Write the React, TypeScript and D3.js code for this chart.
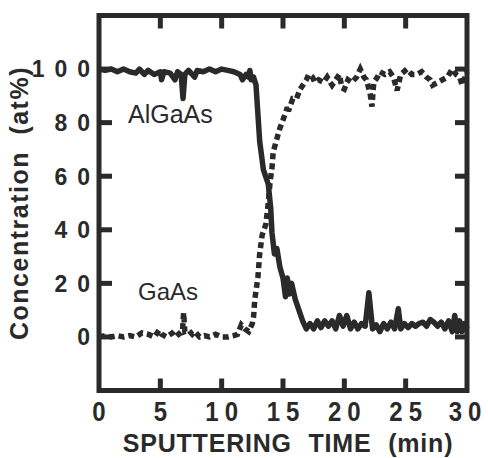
import React from 'react';
import * as d3 from 'd3';

const W = 488;
const H = 458;

const xTickValues = [0, 5, 10, 15, 20, 25, 30];
const xTickLabels = ['0', '5', '10', '15', '20', '25', '30'];
const yTickValues = [0, 20, 40, 60, 80, 100];
const yTickLabels = ['0', '20', '40', '60', '80', '100'];
const innerXTicks = [5, 10, 15, 20, 25];
const innerYTicks = [0, 20, 40, 60, 80, 100];

const xTitle = 'SPUTTERING TIME (min)';
const yTitle = 'Concentration (at%)';
const seriesNames = ['AlGaAs', 'GaAs'];

// AlGaAs (solid line)
const alTime = [0, 0.5, 1, 1.5, 2, 2.5, 3, 3.3, 3.7, 4, 4.5, 5, 5.1, 5.3, 5.8, 6.2, 6.4, 6.7, 6.85, 7.0, 7.3, 7.8, 8, 8.5, 9, 9.5, 10, 10.5, 11, 11.5, 11.7, 12, 12.2, 12.3, 12.4, 12.6, 12.8, 13.1, 13.4, 13.8, 14.0, 14.1, 14.3, 14.5, 14.75, 15.0, 15.2, 15.35, 15.5, 15.7, 16.0, 16.3, 16.6, 16.9, 17.2, 17.5, 17.8, 18.1, 18.4, 18.7, 19.0, 19.3, 19.6, 19.9, 20.2, 20.5, 20.8, 21.1, 21.4, 21.7, 22.0, 22.3, 22.6, 22.9, 23.2, 23.5, 23.8, 24.1, 24.4, 24.6, 24.9, 25.2, 25.5, 25.8, 26.1, 26.4, 26.7, 27.0, 27.3, 27.6, 27.9, 28.2, 28.5, 28.8, 29.0, 29.2, 29.4, 29.6, 29.8, 30];
const alConc = [100, 99.5, 100, 99, 100, 99, 98.5, 100, 98, 99.5, 98, 99, 96, 99, 98.5, 96, 99, 98, 89, 98, 99.5, 97, 99.5, 99, 100, 99, 100, 99.5, 99, 98, 96, 98, 97, 99.5, 96, 97, 94, 73, 62.5, 57, 48, 39, 31, 33, 26, 22, 15, 22, 16, 20, 14, 10, 6, 3, 5, 3, 6, 3.5, 6, 4, 6, 3, 8, 4, 8, 3, 5.5, 3, 5, 4, 16.5, 3, 4.5, 2, 5, 3, 5.5, 3, 10.5, 3, 5, 3.5, 5, 4, 5, 5.5, 4, 6.5, 5.5, 4, 5.5, 3, 6, 2, 8, 2, 6, 2, 5, 3];

// GaAs (dotted line)
const gaTime = [0, 0.5, 1, 1.5, 2, 2.5, 3, 3.5, 4, 4.5, 4.9, 5.1, 5.5, 6, 6.2, 6.5, 6.8, 6.9, 7.0, 7.3, 7.6, 7.8, 8.2, 8.6, 9, 9.5, 10, 10.5, 11, 11.3, 11.6, 11.9, 12.2, 12.5, 12.6, 12.7, 12.95, 13.1, 13.3, 13.6, 13.8, 13.95, 14.1, 14.2, 14.5, 14.75, 15.0, 15.3, 15.5, 15.8, 16.1, 16.4, 16.9, 17.1, 17.4, 17.6, 17.9, 18.3, 18.6, 19.0, 19.3, 19.6, 19.8, 20.0, 20.3, 20.6, 21.0, 21.3, 21.6, 21.8, 22.1, 22.25, 22.4, 22.7, 22.9, 23.3, 23.7, 24.0, 24.3, 24.6, 25.1, 25.5, 25.9, 26.3, 26.7, 27.0, 27.2, 27.6, 28.0, 28.4, 28.8, 29.1, 29.4, 29.6, 30];
const gaConc = [0, 0.5, 0, 0.5, 0, 0.5, 0, 1.5, 1, 0, 2.5, 1, 0, 1.5, 2.5, 1, 2, 9, 2, 2.5, 1, 2, 0, 0.5, 0, 1, 0, 0, 0.5, 1, 4.5, 3, 2, 5, 7.5, 14, 22, 31, 38, 42, 50, 58, 63, 69, 74, 78, 81, 85, 85, 89, 89, 92.5, 96, 98, 97, 95, 96, 95, 97, 94, 96, 98, 93, 92.5, 96, 95, 97, 100, 97, 96, 91, 86, 95, 97, 99, 98, 99, 97, 92, 98, 100, 98, 98, 99, 97, 96, 94, 95, 96, 97, 100, 98, 97, 94, 99];

const INK = '#2a2a2a';
const FONT = '"Liberation Sans", Arial, Helvetica, sans-serif';

export default function App() {
  const x = d3.scaleLinear().domain([0, 30]).range([99, 467]);
  const y = d3.scaleLinear().domain([-20, 120]).range([390.5, 15.5]);

  const alData = alTime.map((t, i) => [t, alConc[i]] as [number, number]);
  const gaData = gaTime.map((t, i) => [t, gaConc[i]] as [number, number]);
  const line = d3
    .line<[number, number]>()
    .x((d) => x(d[0]))
    .y((d) => y(d[1]));

  const [x0, x1] = x.range();
  const [yb, yt] = y.range();
  const xls = 6;
  const yls = 10;

  return (
    <svg
      width={W}
      height={H}
      style={{ position: 'absolute', left: 0, top: 0, background: '#fff' }}
      fontFamily={FONT}
    >
      <rect x={0} y={0} width={W} height={H} fill="#fff" />
      {/* data */}
      <path
        d={line(gaData) || ''}
        fill="none"
        stroke={INK}
        strokeWidth={5.5}
        strokeDasharray="6 4"
        strokeLinejoin="miter"
      />
      <path
        d={line(alData) || ''}
        fill="none"
        stroke={INK}
        strokeWidth={5.5}
        strokeLinejoin="round"
      />
      {/* frame */}
      <rect
        x={x0}
        y={yt}
        width={x1 - x0}
        height={yb - yt}
        fill="none"
        stroke={INK}
        strokeWidth={5}
      />
      {/* ticks */}
      {innerXTicks.map((v) => (
        <g key={'xt' + v}>
          <line x1={x(v)} x2={x(v)} y1={yt} y2={yt + 13} stroke={INK} strokeWidth={5} />
          <line x1={x(v)} x2={x(v)} y1={yb} y2={yb - 12} stroke={INK} strokeWidth={5} />
        </g>
      ))}
      {innerYTicks.map((v) => (
        <g key={'yt' + v}>
          <line x1={x0} x2={x0 + 13} y1={y(v)} y2={y(v)} stroke={INK} strokeWidth={5} />
          <line x1={x1} x2={x1 - 12} y1={y(v)} y2={y(v)} stroke={INK} strokeWidth={5} />
        </g>
      ))}
      {/* x tick labels */}
      {xTickValues.map((v, i) => (
        <g key={'xl' + v} transform={`translate(${Math.min(x(v), 465) + xls / 2},421) scale(1,1.12)`}>
          <text
            x={0}
            y={0}
            textAnchor="middle"
            fontSize={24}
            fontWeight="bold"
            fill={INK}
            letterSpacing={xls}
          >
            {xTickLabels[i]}
          </text>
        </g>
      ))}
      {/* y tick labels */}
      {yTickValues.map((v, i) => (
        <text
          key={'yl' + v}
          x={90 + yls}
          y={y(v) + 8.3}
          textAnchor="end"
          fontSize={23}
          fontWeight="bold"
          fill={INK}
          letterSpacing={yls}
        >
          {yTickLabels[i]}
        </text>
      ))}
      {/* axis titles */}
      <g transform="translate(288,452) scale(1,1.06)">
        <text
          x={0}
          y={0}
          textAnchor="middle"
          fontSize={25}
          fontWeight="bold"
          fill={INK}
          letterSpacing={0.8}
          style={{ wordSpacing: '9px' }}
        >
          {xTitle}
        </text>
      </g>
      <text
        transform="translate(28,203) rotate(-90)"
        textAnchor="middle"
        fontSize={25}
        fontWeight="bold"
        fill={INK}
        letterSpacing={1.5}
        style={{ wordSpacing: '8px' }}
      >
        {yTitle}
      </text>
      {/* series annotations */}
      <text x={128} y={123} fontSize={25} fill={INK}>
        {seriesNames[0]}
      </text>
      <text x={138} y={300} fontSize={24} fill={INK}>
        {seriesNames[1]}
      </text>
    </svg>
  );
}
